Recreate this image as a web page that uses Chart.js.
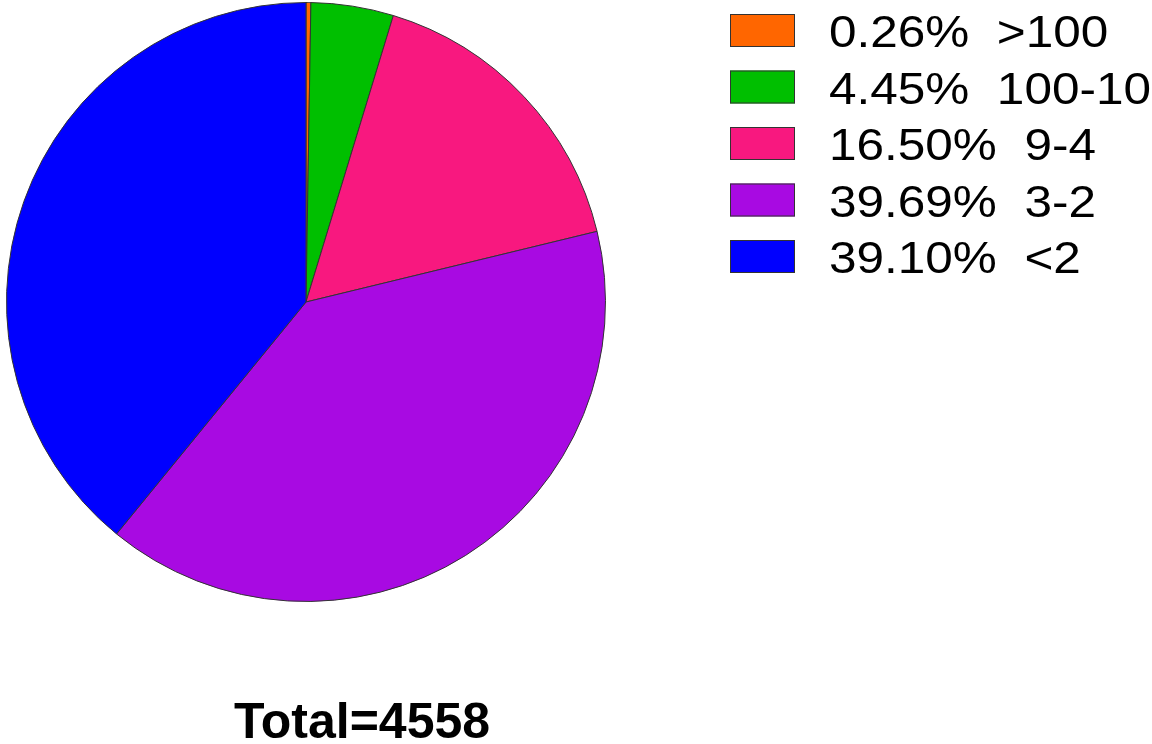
<!DOCTYPE html>
<html>
<head>
<meta charset="utf-8">
<script src="https://cdn.jsdelivr.net/npm/chart.js@4"></script>
<style>
  html, body { margin: 0; padding: 0; background: #fff; }
  #wrap { width: 1152px; height: 744px; position: relative; }
</style>
</head>
<body>
<div id="wrap"><canvas id="pie"></canvas></div>
<script>
// slices, clockwise from 12 o'clock
const labels = [">100", "100-10", "9-4", "3-2", "<2"];
const percents = [0.26, 4.45, 16.5, 39.69, 39.1];
const colors = ["#FF6600", "#00BF00", "#F8187F", "#A80AE2", "#0000FF"];
const total = 4558;

// legend + total drawn by hand, next to the pie
const sideText = {
  id: "sideText",
  afterDraw(chart) {
    const ctx = chart.ctx;
    ctx.save();
    ctx.textBaseline = "alphabetic";
    ctx.textAlign = "left";
    labels.forEach((lab, i) => {
      const y = 14 + i * 56.5;
      ctx.fillStyle = colors[i];
      ctx.fillRect(730, y, 65, 33);
      ctx.strokeStyle = "#333";
      ctx.lineWidth = 1;
      ctx.strokeRect(730.5, y + 0.5, 64, 32);
      // reference text is a bit wider than the plain font
      ctx.save();
      ctx.translate(829, y + 33);
      ctx.scale(1.125, 1);
      ctx.font = "44px 'Liberation Sans', Arial, sans-serif";
      ctx.fillStyle = "#000";
      ctx.fillText(percents[i].toFixed(2) + "%  " + lab, 0, 0);
      ctx.restore();
    });
    ctx.fillStyle = "#000";
    ctx.font = "bold 50px 'Liberation Sans', Arial, sans-serif";
    ctx.textAlign = "center";
    ctx.fillText("Total=" + total, 362, 738);
    ctx.restore();
  },
};

new Chart("pie", {
  type: "pie",
  data: {
    labels: labels,
    datasets: [
      {
        data: percents,
        backgroundColor: colors,
        borderColor: "#333",
        borderWidth: 1,
      },
    ],
  },
  options: {
    responsive: true,
    maintainAspectRatio: false,
    animation: false,
    layout: { padding: { left: 6, top: 2, right: 546, bottom: 142 } },
    plugins: {
      legend: { display: false },
      tooltip: { enabled: false },
    },
  },
  plugins: [sideText],
});
</script>
</body>
</html>
